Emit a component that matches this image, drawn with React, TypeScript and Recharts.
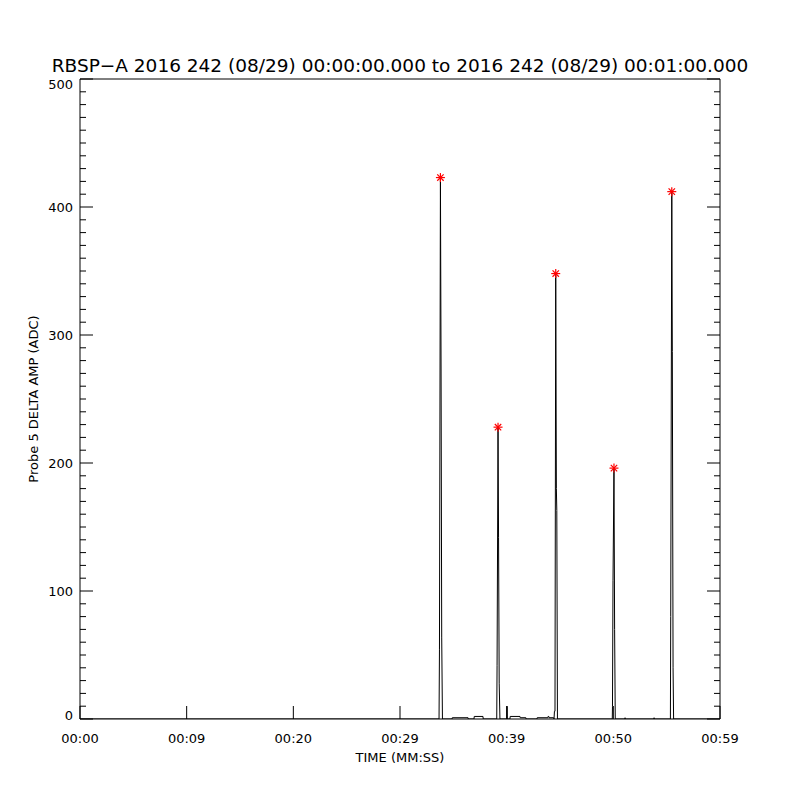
import React from 'react';
import { ComposedChart, Line, Scatter, XAxis, YAxis } from 'recharts';

const TITLE = 'RBSP\u2212A 2016 242 (08/29) 00:00:00.000 to 2016 242 (08/29) 00:01:00.000';

// x axis: seconds after 00:00:00, labelled the way the original plot does
const timeTicks = [0, 10, 20, 30, 40, 50, 60];
const timeLabels = ['00:00', '00:09', '00:20', '00:29', '00:39', '00:50', '00:59'];

// y axis: major every 100, minor every 10
const ampMajor = [0, 100, 200, 300, 400, 500];
const ampTicks = Array.from({ length: 51 }, (_, i) => i * 10);

// probe 5 delta amplitude samples (s, ADC)
const sampleTimes = [
  0, 33.66, 33.7, 33.79, 33.85, 33.91, 33.98,
  34.88, 34.9, 36.38, 36.4, 36.94, 36.96, 37.78, 37.8,
  39.07, 39.1, 39.19, 39.24, 39.3, 39.37,
  40.02, 40.04, 40.06, 40.31, 40.33, 41.25, 41.27, 41.8, 41.82,
  42.84, 42.86, 43.86, 43.88, 43.95, 43.97, 44.4,
  44.44, 44.48, 44.53, 44.6, 44.66, 44.7, 44.76,
  49.9, 49.92, 49.97, 50.06, 50.12, 50.18,
  51.08, 51.1, 51.12, 53.8, 53.82, 53.84,
  55.35, 55.38, 55.48, 55.53, 55.6, 55.65, 60,
];
const sampleAmps = [
  0, 0, 54, 423, 275, 64, 0,
  0, 1, 1, 0, 0, 2, 2, 0,
  0, 42, 228, 142, 28, 0,
  0, 10, 0, 0, 2, 2, 1, 1, 0,
  0, 1, 1, 2, 2, 1, 1,
  0, 6, 6, 348, 180, 163, 0,
  0, 10, 108, 196, 70, 0,
  0, 1, 0, 0, 1, 0,
  0, 80, 412, 287, 40, 0, 0,
];

// detected peaks (red asterisks)
const peakTimes = [33.79, 39.19, 44.6, 50.06, 55.48];
const peakAmps = [423, 228, 348, 196, 412];

const samples = sampleTimes.map((t, i) => ({ t, v: sampleAmps[i] }));
const peaks = peakTimes.map((t, i) => ({ t, v: peakAmps[i] }));

const FONT = 'DejaVu Sans, sans-serif';

const LeftTick = (props: any) => {
  const { x, y, payload } = props;
  const major = payload.value % 100 === 0;
  // the original nudges the end labels inside the frame
  const nudge = payload.value === 500 ? 5 : payload.value === 0 ? -4 : 0;
  return (
    <g>
      <line x1={x} y1={y} x2={x + (major ? 13 : 6)} y2={y} stroke="#000" />
      {major && (
        <text x={x - 7} y={y + nudge} dy="0.35em" textAnchor="end" fontSize={13} fill="#000">
          {payload.value}
        </text>
      )}
    </g>
  );
};

const RightTick = (props: any) => {
  const { x, y, payload } = props;
  const major = payload.value % 100 === 0;
  return <line x1={x} y1={y} x2={x - (major ? 13 : 6)} y2={y} stroke="#000" />;
};

const Asterisk = (props: any) => {
  const { cx, cy } = props;
  const r = 4.5;
  const d = 3.2;
  return (
    <g stroke="#ff0000" strokeWidth={1.2}>
      <line x1={cx - r} y1={cy} x2={cx + r} y2={cy} />
      <line x1={cx} y1={cy - r} x2={cx} y2={cy + r} />
      <line x1={cx - d} y1={cy - d} x2={cx + d} y2={cy + d} />
      <line x1={cx - d} y1={cy + d} x2={cx + d} y2={cy - d} />
    </g>
  );
};

export default function App() {
  return (
    <div style={{ position: 'absolute', left: 0, top: 0, width: 800, height: 800, background: '#fff', fontFamily: FONT }}>
      <ComposedChart width={800} height={800} margin={{ top: 78, right: 79, bottom: 51, left: 20 }}>
        <XAxis
          xAxisId="b"
          dataKey="t"
          type="number"
          domain={[0, 60]}
          allowDataOverflow
          ticks={timeTicks}
          interval={0}
          tickFormatter={(v: number) => timeLabels[timeTicks.indexOf(v)]}
          height={30}
          tickSize={-13}
          tickMargin={28}
          stroke="#000"
          tick={{ fill: '#000', fontSize: 13 }}
          label={{ value: 'TIME (MM:SS)', position: 'bottom', offset: 4, fill: '#000', fontSize: 13 }}
        />
        <XAxis
          xAxisId="top"
          orientation="top"
          dataKey="t"
          type="number"
          domain={[0, 60]}
          allowDataOverflow
          ticks={timeTicks}
          interval={0}
          height={1}
          tickSize={-13}
          tick={false}
          stroke="#000"
          label={{ value: TITLE, position: 'top', offset: 6, fill: '#000', fontSize: 18.5 }}
        />
        <YAxis
          yAxisId="l"
          dataKey="v"
          type="number"
          domain={[0, 500]}
          allowDataOverflow
          ticks={ampTicks}
          interval={0}
          width={60}
          tickSize={0}
          tickMargin={0}
          tickLine={false}
          tick={<LeftTick />}
          stroke="#000"
          label={{
            value: 'Probe 5 DELTA AMP (ADC)',
            angle: -90,
            position: 'insideLeft',
            offset: 13,
            fill: '#000',
            fontSize: 13,
            style: { textAnchor: 'middle' },
          }}
        />
        <YAxis
          yAxisId="r"
          orientation="right"
          dataKey="v"
          type="number"
          domain={[0, 500]}
          allowDataOverflow
          ticks={ampTicks}
          interval={0}
          width={1}
          tickSize={0}
          tickMargin={0}
          tickLine={false}
          tick={<RightTick />}
          stroke="#000"
        />
        <Line
          xAxisId="b"
          yAxisId="l"
          data={samples}
          dataKey="v"
          type="linear"
          stroke="#000"
          strokeWidth={1}
          dot={false}
          activeDot={false}
          isAnimationActive={false}
        />
        <Scatter
          xAxisId="b"
          yAxisId="l"
          data={peaks}
          dataKey="v"
          shape={<Asterisk />}
          isAnimationActive={false}
        />
      </ComposedChart>
    </div>
  );
}
